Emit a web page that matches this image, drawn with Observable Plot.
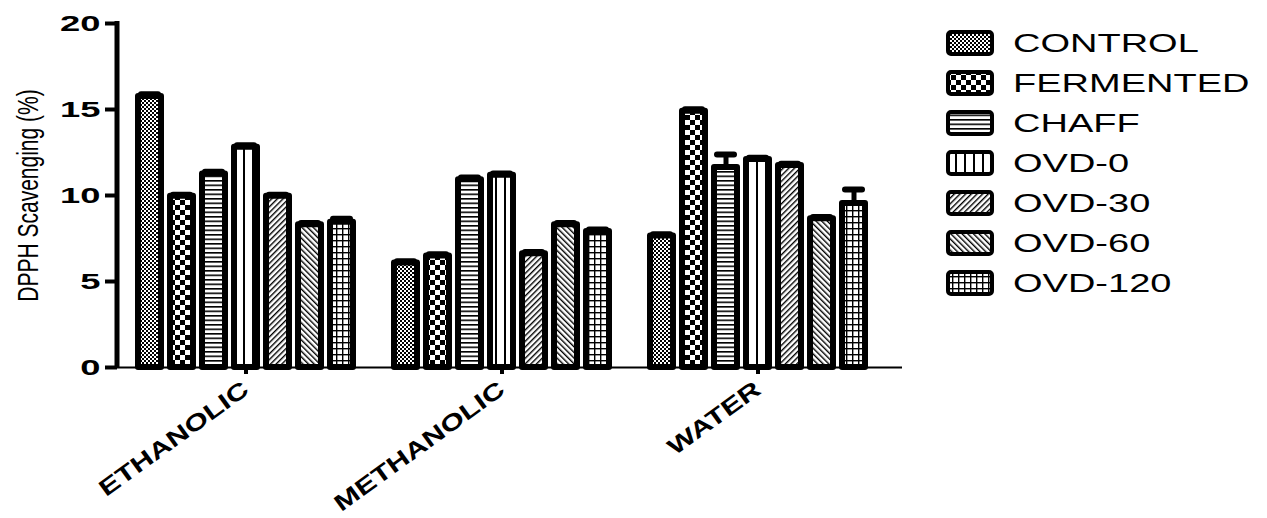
<!DOCTYPE html>
<html>
<head>
<meta charset="utf-8">
<script src="https://cdn.jsdelivr.net/npm/d3@7"></script>
<script src="https://cdn.jsdelivr.net/npm/@observablehq/plot@0.6"></script>
<style>
  html, body { margin: 0; padding: 0; background: white; }
  #wrap { position: relative; width: 1267px; height: 518px; overflow: hidden; font-family: "Liberation Sans", Arial, sans-serif; }
  #legend { position: absolute; left: 946px; top: 0; }
  .lrow { position: absolute; left: 0; height: 40px; display: flex; align-items: center; white-space: nowrap; }
  .lrow svg { display: block; }
  .lrow span { display: inline-block; margin-left: 19px; font-size: 25px; color: #000; transform: scaleX(1.52); transform-origin: left center; }
</style>
</head>
<body>
<svg width="0" height="0" style="position:absolute">
  <defs>
    <pattern id="p-control" width="4" height="4" patternUnits="userSpaceOnUse">
      <rect width="4" height="4" fill="white"/>
      <rect width="2" height="2" fill="black"/>
      <rect x="2" y="2" width="2" height="2" fill="black"/>
    </pattern>
    <pattern id="p-fermented" width="10" height="10" patternUnits="userSpaceOnUse">
      <rect width="10" height="10" fill="white"/>
      <rect width="5" height="5" fill="black"/>
      <rect x="5" y="5" width="5" height="5" fill="black"/>
    </pattern>
    <pattern id="p-chaff" width="4.5" height="4.5" patternUnits="userSpaceOnUse">
      <rect width="4.5" height="4.5" fill="white"/>
      <rect width="4.5" height="1.6" fill="black"/>
    </pattern>
    <pattern id="p-ovd0" width="9" height="9" patternUnits="userSpaceOnUse">
      <rect width="9" height="9" fill="white"/>
      <rect width="2" height="9" fill="black"/>
    </pattern>
    <pattern id="p-ovd30" width="4" height="4" patternUnits="userSpaceOnUse" patternTransform="rotate(45)">
      <rect width="4" height="4" fill="white"/>
      <rect width="1.4" height="4" fill="black"/>
    </pattern>
    <pattern id="p-ovd60" width="4" height="4" patternUnits="userSpaceOnUse" patternTransform="rotate(-45)">
      <rect width="4" height="4" fill="white"/>
      <rect width="1.4" height="4" fill="black"/>
    </pattern>
    <pattern id="p-ovd120" width="6" height="6" patternUnits="userSpaceOnUse">
      <rect width="6" height="6" fill="white"/>
      <rect width="6" height="1.4" fill="black"/>
      <rect width="1.4" height="6" fill="black"/>
    </pattern>
  </defs>
</svg>
<div id="wrap">
  <div id="chart"></div>
  <div id="legend"></div>
</div>
<script>
// ---- data ----
const groups = ["ETHANOLIC", "METHANOLIC", "WATER"];
const series = ["CONTROL", "FERMENTED", "CHAFF", "OVD-0", "OVD-30", "OVD-60", "OVD-120"];
const ethanolic  = [15.75, 9.95, 11.25, 12.8, 9.95, 8.3, 8.45];
const methanolic = [6.08, 6.48, 10.92, 11.18, 6.62, 8.3, 7.9];
const water      = [7.65, 14.9, 11.63, 12.1, 11.75, 8.65, 9.53];
const ethanolicErr  = [0.13, 0.1, 0.13, 0.12, 0.1, 0.1, 0.2];
const methanolicErr = [0.1, 0.1, 0.12, 0.1, 0.1, 0.1, 0.12];
const waterErr      = [0.1, 0.11, 0.75, 0.1, 0.1, 0.1, 0.82];
const yTicks = [0, 5, 10, 15, 20];
const yLabel = "DPPH Scavenging (%)";

// ---- styles ----
const patternFills = ["url(#p-control)", "url(#p-fermented)", "url(#p-chaff)", "url(#p-ovd0)", "url(#p-ovd30)", "url(#p-ovd60)", "url(#p-ovd120)"];

// ---- build table ----
const values = [ethanolic, methanolic, water];
const errs = [ethanolicErr, methanolicErr, waterErr];
const rows = [];
const xDomain = [];
const centerKeys = [];
const groupOfKey = {};
groups.forEach((g, gi) => {
  if (gi > 0) xDomain.push("gap-" + gi);
  series.forEach((s, si) => {
    const key = g + "|" + s;
    xDomain.push(key);
    groupOfKey[key] = g;
    rows.push({key, group: g, series: s, value: values[gi][si], err: errs[gi][si]});
  });
  centerKeys.push(g + "|" + series[Math.floor(series.length / 2)]);
});

const plot = Plot.plot({
  width: 1267,
  height: 518,
  marginLeft: 117,
  marginRight: 365,
  marginTop: 23,
  marginBottom: 151,
  style: {fontFamily: "'Liberation Sans', Arial, sans-serif", background: "white", color: "black", overflow: "visible"},
  x: {domain: xDomain, paddingInner: 0.292, paddingOuter: 0.723, align: 0.362, axis: null},
  y: {domain: [0, 20], axis: null},
  color: {type: "ordinal", domain: series, range: patternFills},
  marks: [
    Plot.barY(rows, {x: "key", y: "value", fill: "series", stroke: "black", strokeWidth: 6, strokeLinejoin: "round"}),
    Plot.ruleX(rows, {x: "key", y1: "value", y2: d => d.value + d.err, stroke: "black", strokeWidth: 5}),
    Plot.tickY(rows, {x: "key", y: d => d.value + d.err, stroke: "black", strokeWidth: 6, strokeLinecap: "round", insetLeft: 3, insetRight: 3}),
    Plot.ruleY([0], {stroke: "black", strokeWidth: 2}),
    Plot.axisY(yTicks, {line: true, tickSize: 12, tickPadding: 5, strokeWidth: 4, fontSize: 22, fontWeight: "bold",
      label: yLabel, labelAnchor: "center", labelOffset: 100, labelArrow: "none"}),
    Plot.axisX(centerKeys, {tickSize: 7, tickPadding: 12, strokeWidth: 4, tickFormat: k => groupOfKey[k], tickRotate: -36,
      fontSize: 23, fontWeight: "bold", label: null})
  ]
});
document.getElementById("chart").append(plot);

// y axis line, drawn from the plot's own scales
const svg = d3.select(plot.tagName.toLowerCase() === "svg" ? plot : plot.querySelector("svg"));
const ySc = plot.scale("y");
const yPix = ySc.range;
svg.append("line")
  .attr("x1", 117).attr("x2", 117)
  .attr("y1", Math.max(...yPix) + 1).attr("y2", Math.min(...yPix) - 2)
  .attr("stroke", "black").attr("stroke-width", 5);

// stretch text horizontally like the reference
function stretch(sel, f) {
  plot.querySelectorAll(sel).forEach(t => {
    const w = t.getComputedTextLength();
    t.setAttribute("textLength", w * f);
    t.setAttribute("lengthAdjust", "spacingAndGlyphs");
  });
}
stretch('g[aria-label="y-axis tick label"] text', 1.65);
stretch('g[aria-label="x-axis tick label"] text', 1.33);
plot.querySelectorAll('g[aria-label="y-axis label"] text').forEach(t => {
  t.setAttribute("font-size", 21);
  t.setAttribute("font-weight", "normal");
  t.setAttribute("transform", (t.getAttribute("transform") || "") + " scale(1,1.4)");
});

// legend
const legend = d3.select("#legend");
series.forEach((s, i) => {
  const row = legend.append("div").attr("class", "lrow").style("top", (43 + 40 * i - 20) + "px");
  const sv = row.append("svg").attr("width", 48).attr("height", 26);
  sv.append("rect").attr("x", 2).attr("y", 2).attr("width", 44).attr("height", 22).attr("rx", 3)
    .attr("fill", patternFills[i]).attr("stroke", "black").attr("stroke-width", 4);
  row.append("span").text(s);
});
</script>
</body>
</html>
